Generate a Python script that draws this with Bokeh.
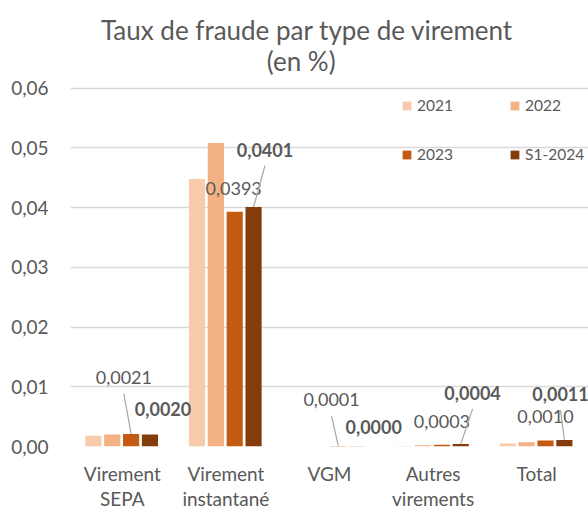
import math
from bokeh.plotting import figure
from bokeh.models import Range1d, FixedTicker, Legend, LegendItem, Label, ColumnDataSource
from bokeh.core.properties import value
from bokeh.embed import file_html
from bokeh.resources import INLINE

# ---- data ----
categories = ["Virement\nSEPA", "Virement\ninstantané", "VGM", "Autres\nvirements", "Total"]
series = ["2021", "2022", "2023", "S1-2024"]
v2021 = [0.0018, 0.0448, float("nan"), 0.0001, 0.0005]
v2022 = [0.0020, 0.0508, float("nan"), 0.0002, 0.0007]
v2023 = [0.0021, 0.0393, 0.0001, 0.0003, 0.0010]
v2024 = [0.0020, 0.0401, 0.00004, 0.0004, 0.0011]
labels2023 = ["0,0021", "0,0393", "0,0001", "0,0003", "0,0010"]
labels2024 = ["0,0020", "0,0401", "0,0000", "0,0004", "0,0011"]
y_ticks = [0.0, 0.01, 0.02, 0.03, 0.04, 0.05, 0.06]
y_tick_labels = ["0,00", "0,01", "0,02", "0,03", "0,04", "0,05", "0,06"]
title_lines = ["Taux de fraude par type de virement", "(en %)"]

# ---- style ----
colors = ["#F8CBAD", "#F4B183", "#C55A11", "#843C0C"]
offsets = [-0.279, -0.097, 0.085, 0.267]
bar_w = 0.156
FONT = "Lato"
TXT = "#595959"
# label placement (category units, value units) relative to bar top
dx2023 = [-0.07, -0.01, -0.065, 0.0, 0.0]
dy2023 = [0.0094, 0.0039, 0.0077, 0.0039, 0.0040]
lead2023 = [True, False, True, False, False]
dx2024 = [0.126, 0.11, 0.16, 0.114, -0.037]
dy2024 = [0.0042, 0.0096, 0.0033, 0.0086, 0.0077]
lead2024 = [False, True, False, True, True]
lead_gap = 0.0027
# frame spans the title area too: top of value range leaves room for the title
y_top = 0.06 * 448 / 360
# title placement (data units, above the 0,06 gridline)
title_x = [2.284, 2.227]
title_y = [0.0698, 0.0646]

n = len(categories)
centers = [i + 0.5 for i in range(n)]

p = figure(width=588, height=512, output_backend="svg", toolbar_location=None,
           x_range=Range1d(0, n), y_range=Range1d(0, y_top),
           min_border_left=70, min_border_right=0, min_border_top=0, min_border_bottom=64)
p.title = None
p.outline_line_color = None
p.background_fill_color = "white"
p.border_fill_color = "white"

renderers = []
for vals, col, off in zip([v2021, v2022, v2023, v2024], colors, offsets):
    src = ColumnDataSource(dict(x=[c + off for c in centers], top=vals))
    r = p.vbar(x="x", top="top", width=bar_w, bottom=0, source=src,
               fill_color=col, line_color=None)
    renderers.append(r)

# data labels + leader lines
for vals, labs, dxs, dys, leads, off, style in [
        (v2023, labels2023, dx2023, dy2023, lead2023, offsets[2], "normal"),
        (v2024, labels2024, dx2024, dy2024, lead2024, offsets[3], "bold")]:
    bx = [c + off for c in centers]
    lx = [b + d for b, d in zip(bx, dxs)]
    ly = [v + d for v, d in zip(vals, dys)]
    p.text(x=lx, y=ly, text=labs, text_align="center", text_baseline="middle",
           text_font=value(FONT), text_font_size="18px", text_font_style=style,
           text_color=TXT)
    sx0 = [a for a, l in zip(lx, leads) if l]
    sy0 = [a - lead_gap for a, l in zip(ly, leads) if l]
    sx1 = [a for a, l in zip(bx, leads) if l]
    sy1 = [a for a, l in zip(vals, leads) if l]
    p.segment(x0=sx0, y0=sy0, x1=sx1, y1=sy1, line_color="#A6A6A6", line_width=1.2)

# axes
p.xaxis.ticker = FixedTicker(ticks=centers)
p.xaxis.major_label_overrides = {c: lab for c, lab in zip(centers, categories)}
p.yaxis.ticker = FixedTicker(ticks=y_ticks)
p.yaxis.major_label_overrides = {t: lab for t, lab in zip(y_ticks, y_tick_labels)}
for ax in (p.xaxis, p.yaxis):
    ax.axis_line_color = None
    ax.major_tick_line_color = None
    ax.minor_tick_line_color = None
    ax.major_tick_out = 0
    ax.major_tick_in = 0
    ax.minor_tick_out = 0
    ax.major_label_text_font = FONT
    ax.major_label_text_font_size = "19px"
    ax.major_label_text_color = TXT
p.xaxis.major_label_standoff = 15
p.xaxis.major_label_text_line_height = 1.1
p.yaxis.major_label_standoff = 22
p.xgrid.grid_line_color = None
p.ygrid.ticker = FixedTicker(ticks=y_ticks)
p.ygrid.grid_line_color = "#D9D9D9"
p.ygrid.grid_line_width = 1.5

# legend (column-major fill: 2021, 2023 | 2022, S1-2024)
order = [0, 2, 1, 3]
items = [LegendItem(label=series[i], renderers=[renderers[i]]) for i in order]
legend = Legend(items=items, ncols=2, location=(331, 282),
                glyph_width=11, glyph_height=11, label_standoff=5,
                label_text_font=FONT, label_text_font_size="15.5px", label_text_color=TXT,
                label_height=20, label_width=63, spacing=29, padding=0, margin=0,
                border_line_color=None, background_fill_alpha=0)
p.add_layout(legend)

# title (two centred lines)
for tx, ty, tt in zip(title_x, title_y, title_lines):
    p.add_layout(Label(x=tx, y=ty, text=tt, text_align="center", text_baseline="middle",
                       text_font=FONT, text_font_size="26px", text_color=TXT))

open("out.html", "w").write(file_html(p, INLINE))
